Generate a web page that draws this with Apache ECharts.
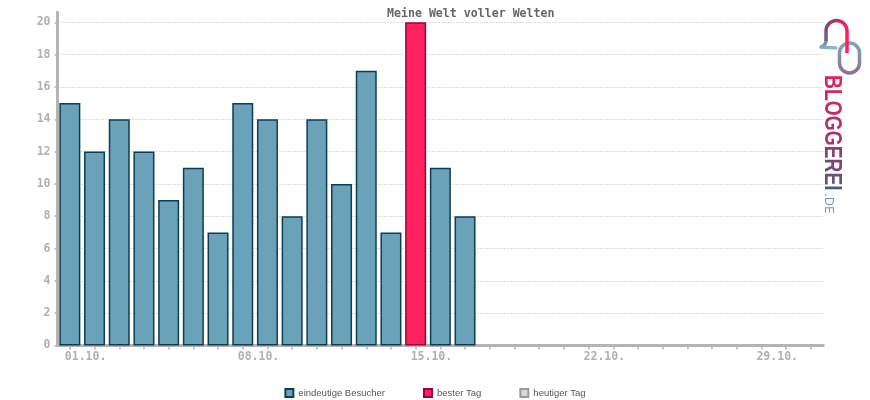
<!DOCTYPE html>
<html><head><meta charset="utf-8">
<script src="https://cdn.jsdelivr.net/npm/echarts@6/dist/echarts.min.js"></script>
<style>html,body{margin:0;padding:0;background:#fff}#c{width:870px;height:400px}</style>
</head><body><div id="c"></div>
<script>
const chartTitle = 'Meine Welt voller Welten';
const categories = ['01.10.','02.10.','03.10.','04.10.','05.10.','06.10.','07.10.','08.10.','09.10.','10.10.',
  '11.10.','12.10.','13.10.','14.10.','15.10.','16.10.','17.10.','18.10.','19.10.','20.10.',
  '21.10.','22.10.','23.10.','24.10.','25.10.','26.10.','27.10.','28.10.','29.10.','30.10.','31.10.'];
const visitors = [15,12,14,12,9,11,7,15,14,8,14,10,17,7,20,11,8];
const seriesNames = ['eindeutige Besucher','bester Tag','heutiger Tag'];
const logoWord = 'BLOGGEREI';
const logoSuffix = '.DE';

const best = visitors.indexOf(Math.max(...visitors));
const normalData = categories.map((c,i)=> (i < visitors.length && i !== best) ? visitors[i] : null);
const bestData = categories.map((c,i)=> i === best ? visitors[i] : null);
const todayData = categories.map(()=> null);

const mono = '"DejaVu Sans Mono", monospace';
const axisGray = '#b4b4b4';

// logo letters with colour gradient
const logoFont = 'bold 23.5px "Liberation Sans", Arial, sans-serif';
const logoScale = 0.82;
const mctx = document.createElement('canvas').getContext('2d');
mctx.font = logoFont;
const logoLetters = [];
let off = 0;
for (let i = 0; i < logoWord.length; i++) {
  const ch = logoWord[i];
  const t = i / (logoWord.length - 1);
  logoLetters.push({type:'text', x:831.5, y:75 + off, rotation:-Math.PI/2, scaleX:logoScale, z:10,
    style:{text:ch, font:logoFont, textAlign:'left', textVerticalAlign:'middle',
      fill: echarts.color.lerp(t, ['#e3215a', '#a83468', '#4e5a82'])}});
  off += mctx.measureText(ch).width * logoScale;
}
const lw = 3.5;
const logoShapes = [
  {type:'rect', shape:{x:839.5, y:43, width:20, height:30, r:10}, z:10,
    style:{fill:'none', lineWidth:lw, stroke:{type:'linear', x:0, y:0, x2:0, y2:1,
      colorStops:[{offset:0, color:'#7fa8ba'},{offset:1, color:'#8a7090'}]}}},
  {type:'line', z:11, shape:{x1:826, y1:31, x2:826, y2:41}, style:{stroke:'#7a5a82', lineWidth:lw}},
  {type:'bezierCurve', z:11, shape:{x1:826, y1:41, cpx1:826, cpy1:45, x2:821, y2:47}, style:{stroke:'#7890a8', lineWidth:lw, fill:'none'}},
  {type:'line', z:11, shape:{x1:821, y1:47, x2:836, y2:48}, style:{stroke:{type:'linear', x:0, y:0, x2:1, y2:0,
      colorStops:[{offset:0, color:'#7aa6ba'},{offset:1, color:'#9abccc'}]}, lineWidth:lw, lineCap:'round'}},
  {type:'arc', z:11, shape:{cx:836.5, cy:31, r:10.5, startAngle:Math.PI, endAngle:2*Math.PI, clockwise:true},
    style:{fill:'none', lineWidth:lw, stroke:{type:'linear', x:0, y:0, x2:1, y2:0,
      colorStops:[{offset:0, color:'#6a5282'},{offset:0.5, color:'#b03468'},{offset:1, color:'#ff1f55'}]}}},
  {type:'line', z:11, shape:{x1:847, y1:31, x2:847, y2:53}, style:{stroke:'#ff1f55', lineWidth:lw}}
];

const chart = echarts.init(document.getElementById('c'), null, {renderer:'canvas'});
chart.setOption({
  animation:false,
  title:{text:chartTitle, left:382, top:3, textStyle:{fontFamily:mono, fontWeight:'bold', fontSize:11.6, color:'#666'}},
  grid:{left:57.5, width:765.7, top:12.3, bottom:54.5, containLabel:false},
  legend:{
    data:seriesNames, left:'center', top:383, itemWidth:8, itemHeight:8, itemGap:38,
    icon:'rect',
    textStyle:{fontFamily:'"Liberation Sans", Arial, sans-serif', fontSize:9.5, color:'#555'}
  },
  xAxis:{
    type:'category', data:categories, boundaryGap:true,
    axisLine:{show:true, lineStyle:{color:axisGray, width:3}},
    axisTick:{show:true, alignWithLabel:true, interval:0, length:4, lineStyle:{color:axisGray, width:1.5}},
    axisLabel:{interval:(i)=> i % 7 === 0, color:'#b0b0b0', fontFamily:mono, fontWeight:'bold', fontSize:11.5,
      align:'left', padding:[0,0,0,-5], margin:6},
    splitLine:{show:false}
  },
  yAxis:{
    type:'value', min:0, max:20.62, interval:2,
    axisLine:{show:true, lineStyle:{color:axisGray, width:3}},
    axisTick:{show:true, length:3, lineStyle:{color:axisGray, width:1.5}},
    axisLabel:{showMaxLabel:false, color:'#b0b0b0', fontFamily:mono, fontWeight:'bold', fontSize:11.5, margin:7},
    splitLine:{show:true, showMaxLine:false, showMinLine:false, lineStyle:{type:[1,2], color:'#bdbdbd', width:1}}
  },
  series:[
    {name:seriesNames[0], type:'bar', data:normalData, barWidth:21, barGap:'-100%',
      itemStyle:{color:'#6aa2ba', borderColor:'#0f3d52', borderWidth:1.5}},
    {name:seriesNames[1], type:'bar', data:bestData, barWidth:21, barGap:'-100%',
      itemStyle:{color:'#ff2160', borderColor:'#a0003a', borderWidth:1.5}},
    {name:seriesNames[2], type:'bar', data:todayData, barWidth:21, barGap:'-100%',
      itemStyle:{color:'#d8d8d8', borderColor:'#999', borderWidth:1.5}}
  ],
  graphic:[
    ...logoShapes,
    ...logoLetters,
    {type:'text', x:828, y:193, rotation:-Math.PI/2, z:10,
      style:{text:logoSuffix, font:'12px "DejaVu Sans", sans-serif', textAlign:'left', textVerticalAlign:'middle', fill:'#6a9ac0'}}
  ]
});
</script></body></html>
